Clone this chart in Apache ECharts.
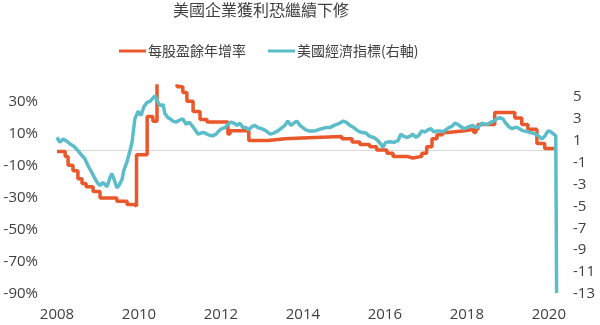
<!DOCTYPE html>
<html>
<head>
<meta charset="utf-8">
<script src="https://cdn.jsdelivr.net/npm/echarts@6/dist/echarts.min.js"></script>
<style>html,body{margin:0;padding:0;background:#fff;}#c{width:600px;height:325px;}</style>
</head>
<body>
<div id="c"></div>
<script>
var titleText = '美國企業獲利恐繼續下修';
var epsName = '每股盈餘年增率';
var econName = '美國經濟指標(右軸)';

// EPS YoY (%) — step series: date (decimal year) where each level begins
var epsDates = [2008.00,2008.20,2008.27,2008.39,2008.51,2008.61,2008.71,2008.88,2009.05,2009.46,2009.71,2009.88,2009.94,2010.20,2010.34,2010.44,2010.93,2011.07,2011.17,2011.32,2011.49,2011.66,2012.17,2012.22,2012.68,2013.15,2013.56,2013.98,2014.95,2015.20,2015.39,2015.63,2015.80,2016.05,2016.20,2016.54,2016.68,2016.90,2017.02,2017.15,2017.27,2017.41,2017.54,2017.95,2018.17,2018.22,2018.27,2018.68,2019.17,2019.34,2019.49,2019.71,2019.90,2020.12];
var epsValues = [-1,-4,-9.5,-13,-18,-21,-23,-26,-30,-32,-34,-35,-3,21,18,48,39.5,36,30.5,24,19,17.5,10,12,6,7,7.5,8.5,7,5,3.5,2,0,-2,-4,-5,-4,-2,2,7,9.5,11,12,13,11,13,16,23.5,20,16,13,4,1,0.5];

// US economic indicator (right axis)
var econDates = [2008.00,2008.07,2008.15,2008.24,2008.32,2008.39,2008.44,2008.51,2008.61,2008.68,2008.76,2008.85,2008.93,2009.00,2009.05,2009.12,2009.22,2009.29,2009.34,2009.39,2009.46,2009.51,2009.59,2009.63,2009.71,2009.78,2009.83,2009.90,2009.98,2010.05,2010.12,2010.20,2010.27,2010.34,2010.39,2010.44,2010.51,2010.59,2010.63,2010.71,2010.76,2010.83,2010.90,2011.00,2011.07,2011.15,2011.22,2011.29,2011.37,2011.44,2011.51,2011.59,2011.66,2011.73,2011.80,2011.88,2011.95,2012.02,2012.10,2012.17,2012.24,2012.32,2012.39,2012.46,2012.54,2012.61,2012.68,2012.76,2012.83,2012.90,2013.00,2013.10,2013.20,2013.29,2013.39,2013.49,2013.56,2013.63,2013.71,2013.78,2013.85,2013.93,2014.00,2014.07,2014.15,2014.22,2014.29,2014.37,2014.46,2014.56,2014.66,2014.76,2014.83,2014.90,2014.98,2015.05,2015.15,2015.24,2015.34,2015.44,2015.54,2015.63,2015.73,2015.83,2015.90,2015.95,2016.02,2016.12,2016.22,2016.32,2016.39,2016.46,2016.54,2016.61,2016.68,2016.76,2016.83,2016.90,2016.98,2017.05,2017.12,2017.20,2017.27,2017.34,2017.41,2017.49,2017.56,2017.63,2017.71,2017.78,2017.85,2017.93,2018.00,2018.07,2018.15,2018.22,2018.29,2018.37,2018.44,2018.51,2018.59,2018.66,2018.73,2018.80,2018.88,2018.95,2019.02,2019.10,2019.17,2019.24,2019.32,2019.39,2019.46,2019.54,2019.61,2019.68,2019.76,2019.83,2019.90,2019.98,2020.05,2020.12,2020.17,2020.19];
var econValues = [1.3,0.85,1.15,0.95,0.7,0.55,0.4,0.1,-0.35,-0.65,-1.3,-1.9,-2.5,-2.9,-3.1,-2.8,-3.2,-2.4,-2.0,-2.5,-3.3,-3.1,-2.5,-1.7,-0.9,0.1,0.85,3.0,3.7,3.3,4.1,4.5,4.6,4.9,5.1,4.7,4.2,4.3,3.5,3.1,3.0,2.8,2.7,2.9,3.0,2.5,2.7,2.4,2.0,1.6,1.7,1.75,1.6,1.5,1.45,1.6,1.9,2.1,2.2,2.5,2.7,2.6,2.4,2.6,2.2,2.2,2.0,2.3,2.4,2.2,2.1,1.9,1.6,1.7,1.9,2.2,2.4,2.8,2.4,2.6,2.8,2.4,2.2,2.0,1.9,1.9,1.9,2.0,2.1,2.2,2.2,2.4,2.5,2.6,2.8,2.7,2.4,2.2,1.9,1.75,1.7,1.4,1.3,1.0,0.7,0.4,0.85,0.9,0.85,1.0,1.6,1.4,1.3,1.4,1.6,1.3,1.5,1.9,1.8,2.0,2.1,1.8,1.9,1.9,1.8,2.0,2.2,2.3,2.6,2.5,2.3,2.1,2.2,2.3,2.4,2.2,2.3,2.6,2.5,2.5,2.7,2.8,3.0,3.1,3.0,2.6,2.3,2.1,2.2,2.2,2.0,1.9,1.85,1.75,1.7,1.6,1.4,1.15,1.4,1.9,1.8,1.6,1.45,-12.9];

var xTicks = [2008, 2010, 2012, 2014, 2016, 2018, 2020];
var leftTicks = [-90, -70, -50, -30, -10, 10, 30];
var rightTicks = [-13, -11, -9, -7, -5, -3, -1, 1, 3, 5];

var epsData = epsDates.map(function (d, i) { return [d, epsValues[i]]; });
var econData = econDates.map(function (d, i) { return [d, econValues[i]]; });

var txt = '#404040';
var ff = '"Open Sans", "Noto Sans CJK TC", sans-serif';
var chart = echarts.init(document.getElementById('c'), null, {renderer: 'canvas'});
chart.setOption({
  animation: false,
  backgroundColor: '#fff',
  title: {
    text: titleText, left: 173, top: 2, padding: 0,
    textStyle: {fontSize: 16, fontWeight: 'normal', color: txt, fontFamily: '"Noto Sans CJK TC", sans-serif'}
  },
  legend: {
    left: 119, top: 44, padding: 0, itemGap: 22, itemWidth: 27, itemHeight: 3,
    icon: 'rect',
    textStyle: {fontSize: 14, color: txt, fontFamily: '"Noto Sans CJK TC", sans-serif', padding: [0,0,0,-3]},
    data: [epsName, econName]
  },
  grid: {left: 57, right: 43, top: 86, bottom: 31},
  xAxis: {
    type: 'value', min: xTicks[0], max: 2020.2, interval: 2,
    axisLine: {show: false}, axisTick: {show: false}, splitLine: {show: false},
    axisLabel: {
      showMaxLabel: false, margin: 13, fontSize: 15, color: txt, fontFamily: ff,
      formatter: function (v) { return xTicks.indexOf(v) >= 0 ? String(v) : ''; }
    }
  },
  yAxis: [{
    type: 'value', min: leftTicks[0], max: 40, interval: 20,
    axisLine: {show: false}, axisTick: {show: false}, splitLine: {show: false},
    axisLabel: {
      showMaxLabel: false, margin: 19, fontSize: 15, color: txt, fontFamily: ff,
      formatter: function (v) { return leftTicks.indexOf(v) >= 0 ? v + '%' : ''; }
    }
  }, {
    type: 'value', min: rightTicks[0], max: 6, interval: 2, position: 'right',
    axisLine: {show: false}, axisTick: {show: false}, splitLine: {show: false},
    axisLabel: {
      showMaxLabel: false, margin: 16, fontSize: 15, color: txt, fontFamily: ff,
      formatter: function (v) { return rightTicks.indexOf(v) >= 0 ? String(v) : ''; }
    }
  }],
  series: [{
    name: epsName, type: 'line', yAxisIndex: 0, data: epsData, step: 'end',
    showSymbol: false, symbol: 'none', clip: true,
    lineStyle: {color: '#E9572B', width: 3.5},
    itemStyle: {color: '#E9572B'},
    markLine: {
      silent: true, symbol: 'none', label: {show: false},
      lineStyle: {color: '#d9d9d9', width: 1, type: 'solid'},
      data: [{yAxis: 0}], z: 1
    }
  }, {
    name: econName, type: 'line', yAxisIndex: 1, data: econData,
    showSymbol: false, symbol: 'none', clip: true,
    lineStyle: {color: '#5BBDC9', width: 3.5},
    itemStyle: {color: '#5BBDC9'}
  }]
});
</script>
</body>
</html>
